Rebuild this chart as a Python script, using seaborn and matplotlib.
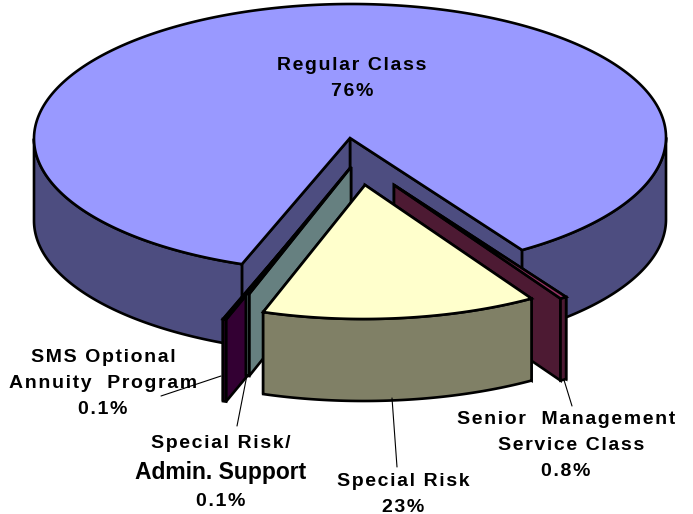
import numpy as np
import matplotlib
matplotlib.use('Agg')
import matplotlib.pyplot as plt
import seaborn as sns
from matplotlib.patches import Polygon

# Datos del grafico (porcentaje por clase)
classes = ['Senior Management Service Class', 'Special Risk', 'Special Risk/Admin. Support',
           'SMS Optional Annuity Program', 'Regular Class']
shares = [0.8, 23, 0.1, 0.1, 76]
share_labels = ['0.8%', '23%', '0.1%', '0.1%', '76%']
top_colors = ['#993366', '#FFFFCC', '#CCFFFF', '#660066', '#9999FF']

# Vista del pastel: elipse, grosor e inclinacion, en pixeles de la imagen
cx, cy = 350, 138
rx, ry = 316, 134
depth = 82
tilt = 0.002
first_angle = 57.0
front_deg_per_pct = 2.2  # los sectores frontales se ven comprimidos
thin_deg_per_pct = 1.5
min_sweep = 0.6

# Desplazamiento de cada sector separado
explode = {'Senior Management Service Class': (44, 47), 'Special Risk': (15, 47),
           'Special Risk/Admin. Support': (1, 29), 'SMS Optional Annuity Program': (-19, 55),
           'Regular Class': (0, 0)}

sns.set_theme(style='white')
plt.rcParams['font.family'] = ['Liberation Sans', 'DejaVu Sans']
palette = sns.color_palette(top_colors)

fig, ax = plt.subplots(figsize=(6.93, 5.14), dpi=100)
ax.set_position([0, 0, 1, 1])
ax.set_xlim(0, 693)
ax.set_ylim(514, 0)
ax.axis('off')


def rim(angles, apex):
    a = np.radians(angles)
    x = rx * np.cos(a)
    y = ry * np.sin(a) - tilt * x
    return np.column_stack([apex[0] + x, apex[1] + y])


def face(points, color, z):
    ax.add_patch(Polygon(points, closed=True, facecolor=color, edgecolor='black',
                         linewidth=1.9, joinstyle='miter', zorder=z))


def wall_between(p, q):
    return np.array([p, q, q + [0, depth], p + [0, depth]])


def draw_slice(start, end, color, apex, z):
    wall_color = tuple(c * 0.5 for c in color)
    apex = np.array(apex, dtype=float)
    angles = np.linspace(start, end, 400)
    edge = rim(angles, apex)
    # paredes internas: primero la mas alejada del frente
    walls = sorted([edge[0], edge[-1]], key=lambda p: -abs(p[0] - cx))
    for corner in walls:
        face(wall_between(apex, corner), wall_color, z)
    # pared exterior, solo la parte que mira al frente
    for a0, a1 in [(start, min(end, 180)), (360, end)]:
        if a1 > a0:
            arc = rim(np.linspace(a0, a1, 300), apex)
            face(np.vstack([arc, arc[::-1] + [0, depth]]), wall_color, z)
    face(np.vstack([[apex], edge]), color, z)


def spaced(s):
    # separa un poco las letras, como en la imagen original
    return '\u200a'.join(s)


# Angulos a partir de los porcentajes
angle = first_angle
spans = {}
for name, share in zip(classes[:-1], shares[:-1]):
    sweep = share * front_deg_per_pct if share > 1 else max(share * thin_deg_per_pct, min_sweep)
    spans[name] = (angle, angle + sweep)
    angle += sweep
spans[classes[-1]] = (angle, first_angle + 360)

order = ['Regular Class', 'Senior Management Service Class', 'SMS Optional Annuity Program',
         'Special Risk/Admin. Support', 'Special Risk']
for i, name in enumerate(order):
    off = explode[name]
    draw_slice(*spans[name], palette[classes.index(name)], (cx + off[0], cy + off[1]), 2 + i)

# Lineas guia
leaders = [((221, 376), (161, 396)), ((247, 375), (237, 426)),
           ((392, 398), (397, 467)), ((564, 380), (572, 406))]
for p, q in leaders:
    ax.plot([p[0], q[0]], [p[1], q[1]], color='black', lw=0.8, zorder=12)

# Etiquetas
label_size = 14
texts = [
    (352, 65, 'Regular Class', label_size), (352, 90, share_labels[4], label_size),
    (103, 357, 'SMS Optional', label_size), (103, 383, 'Annuity  Program', label_size),
    (103, 408, share_labels[3], label_size),
    (221, 443, 'Special Risk/', label_size), (221, 500, share_labels[2], label_size),
    (403, 480, 'Special Risk', label_size), (403, 506, share_labels[1], label_size),
    (566, 419, 'Senior  Management', label_size), (571, 444, 'Service Class', label_size),
    (566, 470, share_labels[0], label_size),
]
for x, y, s, size in texts:
    ax.text(x, y + 1, spaced(s), ha='center', va='center', fontsize=size, fontweight='bold', color='black', zorder=13)
ax.text(221, 472, 'Admin. Support', ha='center', va='center', fontsize=16.5, fontweight='bold', color='black', zorder=13)

plt.savefig('out.png', dpi=100)
